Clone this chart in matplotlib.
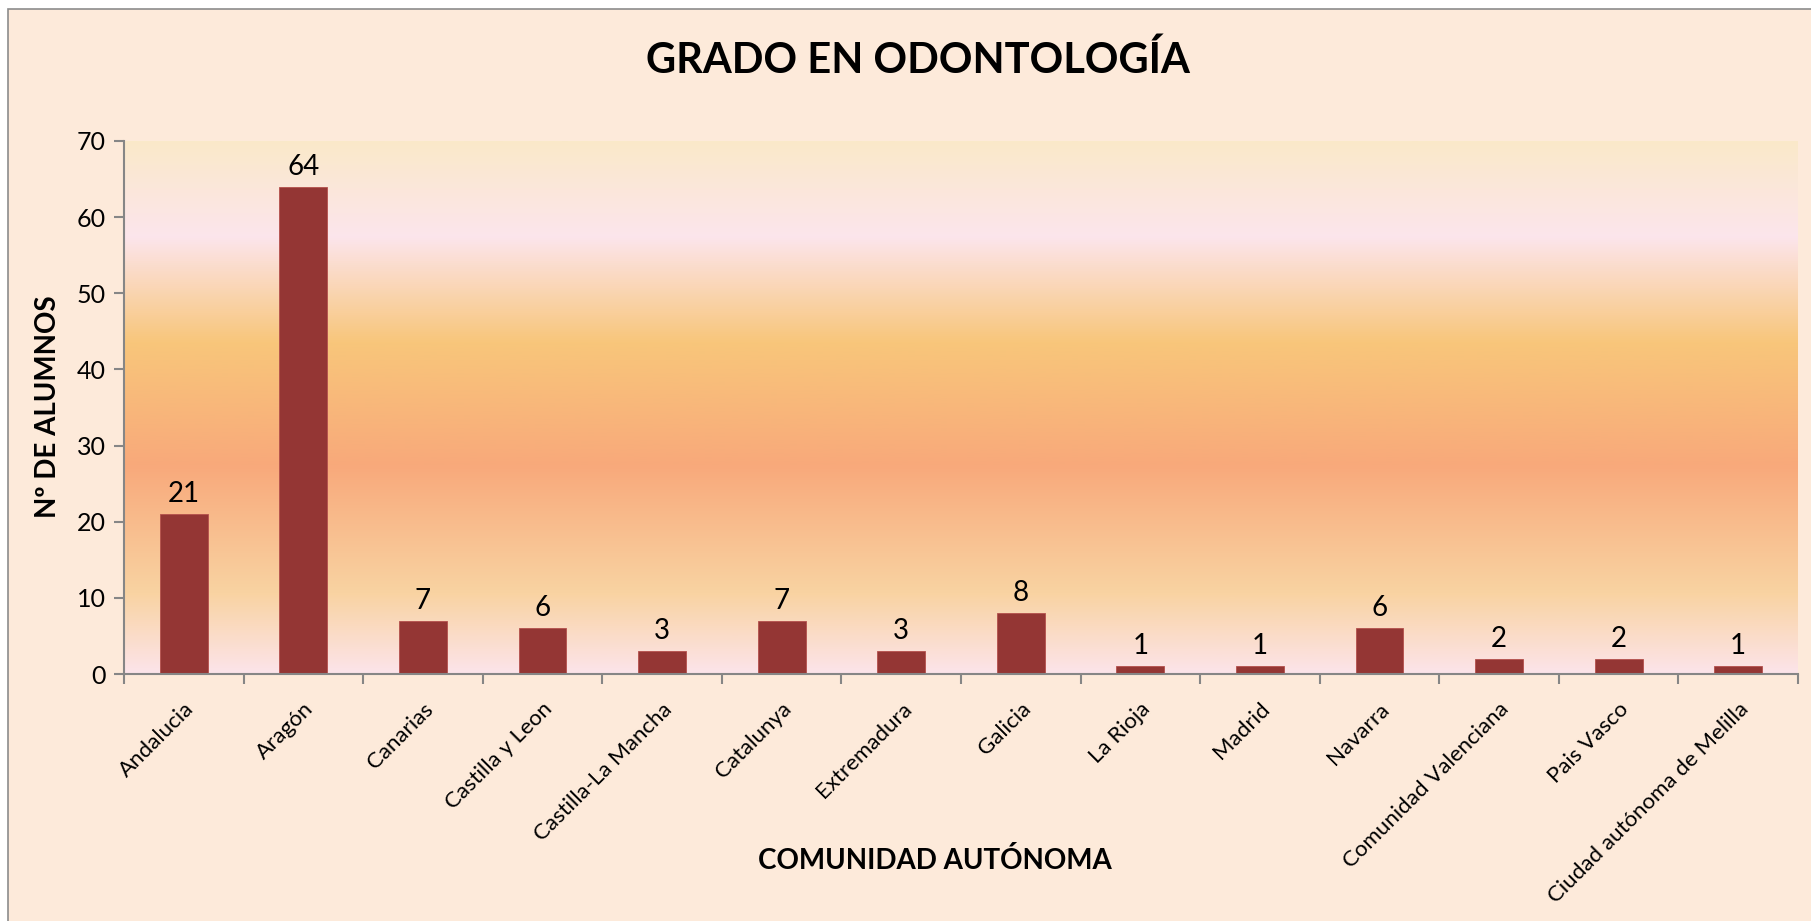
import matplotlib.pyplot as plt
import matplotlib as mpl
import numpy as np
from matplotlib.colors import LinearSegmentedColormap
from matplotlib.patches import Rectangle

plt.rcParams['font.family'] = ['Lato', 'DejaVu Sans']

comunidades = ["Andalucia", "Aragón", "Canarias", "Castilla y Leon", "Castilla-La Mancha",
               "Catalunya", "Extremadura", "Galicia", "La Rioja", "Madrid", "Navarra",
               "Comunidad Valenciana", "Pais Vasco", "Ciudad autónoma de Melilla"]
alumnos = [21, 64, 7, 6, 3, 7, 3, 8, 1, 1, 6, 2, 2, 1]
yticks = [0, 10, 20, 30, 40, 50, 60, 70]

BG = "#FDEADA"
BAR = "#943634"
AXIS = "#868686"


def main():
    fig = plt.figure(figsize=(18.11, 9.21), dpi=100, facecolor="white")
    # chart area frame (grey line on top/left, white strip above)
    fig.patches.append(Rectangle((8 / 1811, -0.05), 1.1, 1.05 - 9 / 921,
                                 transform=fig.transFigure, facecolor=BG,
                                 edgecolor="#8C8C8C", linewidth=1.2, zorder=-10))

    ax = fig.add_axes([124 / 1811, 1 - 674 / 921, (1798 - 124) / 1811, (674 - 141) / 921])
    ax.set_facecolor("none")

    # gradient fill of the plot area (top -> bottom)
    stops = [(0.0, "#FAE9C9"), (0.18, "#FCE5EC"), (0.38, "#F8C67A"),
             (0.61, "#F8A97B"), (0.85, "#F9D3A2"), (1.0, "#FCE4EA")]
    cmap = LinearSegmentedColormap.from_list("sunset", stops)
    grad = np.linspace(0, 1, 512).reshape(-1, 1)
    n = len(comunidades)
    ax.imshow(grad, cmap=cmap, aspect="auto", extent=(-0.5, n - 0.5, 0, 70),
              origin="upper", zorder=0, interpolation="bilinear")

    x = np.arange(n)
    bars = ax.bar(x, alumnos, width=0.4, color=BAR, edgecolor="#B4504C",
                  linewidth=0.6, zorder=2)
    for b, v in zip(bars, alumnos):
        ax.annotate(str(v), (b.get_x() + b.get_width() / 2, v), xytext=(0, 5),
                    textcoords="offset points", ha="center", va="bottom",
                    fontsize=20, color="black", zorder=3)

    ax.set_xlim(-0.5, n - 0.5)
    ax.set_ylim(0, 70)
    ax.set_yticks(yticks)
    ax.tick_params(axis="y", direction="out", length=7, width=1.5, color=AXIS,
                   labelsize=18, pad=6)

    ax.set_xticks(x)
    ax.set_xticklabels(comunidades, rotation=45, ha="right", rotation_mode="anchor",
                       fontsize=16)
    ax.tick_params(axis="x", which="major", length=0, pad=18)
    ax.set_xticks(np.arange(-0.5, n, 1.0), minor=True)
    ax.tick_params(axis="x", which="minor", direction="out", length=7, width=1.5,
                   color=AXIS)

    for s in ["top", "right"]:
        ax.spines[s].set_visible(False)
    for s in ["left", "bottom"]:
        ax.spines[s].set_color(AXIS)
        ax.spines[s].set_linewidth(1.5)

    fig.text(918 / 1811, 1 - 60 / 921, "GRADO EN ODONTOLOGÍA", ha="center",
             va="center", fontsize=30, fontweight="bold")
    fig.text(935 / 1811, 1 - 860 / 921, "COMUNIDAD AUTÓNOMA", ha="center",
             va="center", fontsize=20, fontweight="bold")
    fig.text(48 / 1811, 1 - 407 / 921, "Nº DE ALUMNOS", ha="center", va="center",
             rotation=90, fontsize=20, fontweight="bold")

    fig.savefig("out.png", dpi=100, facecolor=fig.get_facecolor())


if __name__ == '__main__':
    main()
